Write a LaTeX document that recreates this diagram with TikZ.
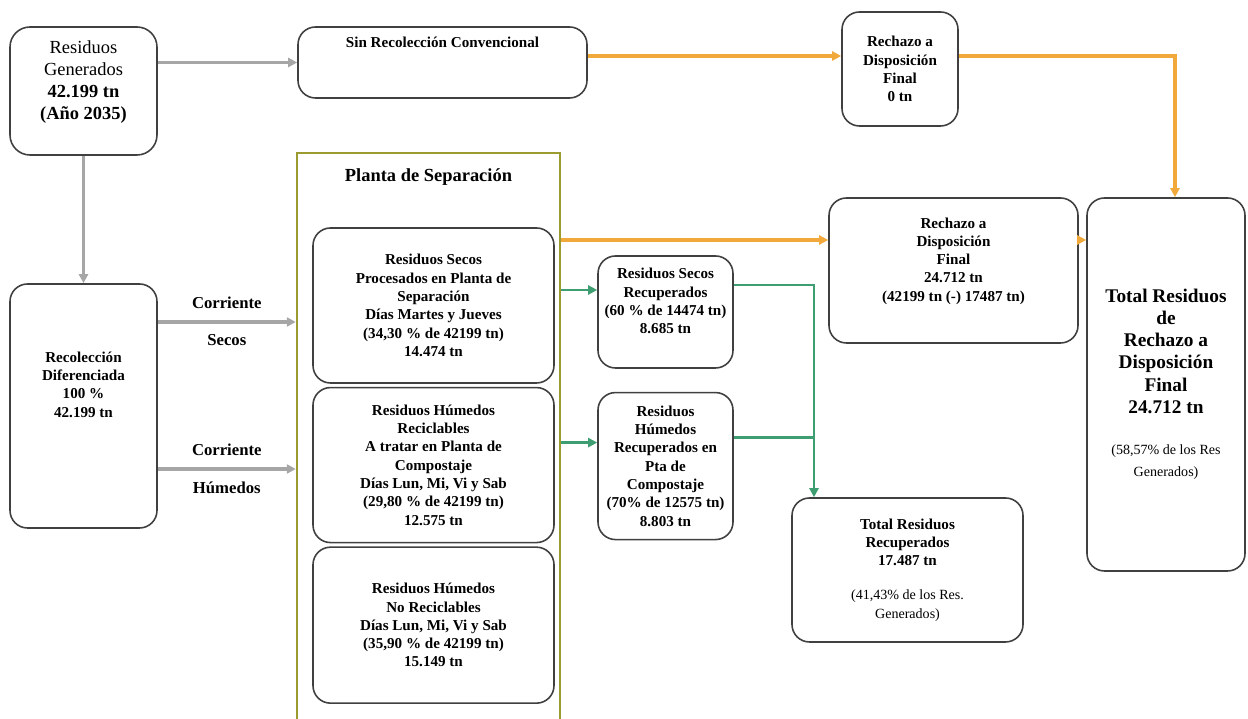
\documentclass[tikz,border=0pt]{standalone}
\usepackage{fontspec}
\setmainfont{Liberation Serif}
\usetikzlibrary{arrows.meta,positioning,calc}
\definecolor{boxline}{gray}{0.25}
\definecolor{flowgray}{HTML}{A6A6A6}
\definecolor{flowgold}{HTML}{F2A93B}
\definecolor{flowgreen}{HTML}{3E9E72}
\definecolor{plantaolive}{HTML}{9C9B30}

\begin{document}
\begin{tikzpicture}[
  box/.style={draw=boxline, line width=0.9pt, rounded corners=3.5mm, align=center, inner sep=2pt, font=\fontsize{8.6}{10.4}\selectfont\bfseries},
  bigbox/.style={box, font=\fontsize{11}{12.6}\selectfont\bfseries},
  lbl/.style={text=black, font=\fontsize{9.5}{11}\selectfont\bfseries},
  arr/.style={-{Triangle[length=1.8mm,width=1.8mm]}, line width=2pt, draw=#1},
  line/.style={line width=2pt, draw=#1},
]
  \useasboundingbox (0,0) rectangle (24.96,14.38);

  % columna izquierda
  \node[box, rounded corners=4mm, minimum width=2.94cm, minimum height=2.56cm, font=\fontsize{10.5}{12.4}\selectfont] (gen) at (1.67,12.56)
    {Residuos\\Generados\\\textbf{42.199 tn}\\\textbf{(Año 2035)}\\[0pt]\mbox{}};
  \node[box, minimum width=2.94cm, minimum height=4.88cm] (rd) at (1.67,6.26)
    {Recolección\\Diferenciada\\100 \%\\42.199 tn\\[14pt]\mbox{}};

  % fila superior
  \node[box, minimum width=5.78cm, minimum height=1.42cm] (sin) at (8.85,13.13)
    {Sin Recolección Convencional\\[12.5pt]\mbox{}};
  \node[box, minimum width=2.32cm, minimum height=2.28cm] (rech0) at (18.0,13.0)
    {Rechazo a\\Disposición\\Final\\0 tn};

  % planta de separacion
  \node[draw=plantaolive, line width=1.4pt, minimum width=5.26cm, minimum height=11.44cm] (planta) at (8.57,5.6) {};
  \node[lbl, font=\fontsize{10.5}{12}\selectfont\bfseries, below=0.22cm of planta.north] (titulo) {Planta de Separación};
  \node[box, minimum width=4.82cm, minimum height=3.1cm] (secos) at (8.67,8.27)
    {Residuos Secos\\Procesados en Planta de\\Separación\\Días Martes y Jueves\\(34,30 \% de 42199 tn)\\14.474 tn};
  \node[box, minimum width=4.82cm, minimum height=3.1cm, below=0.06cm of secos] (hum)
    {Residuos Húmedos\\Reciclables\\A tratar en Planta de\\Compostaje\\Días Lun, Mi, Vi y Sab\\(29,80 \% de 42199 tn)\\12.575 tn};
  \node[box, minimum width=4.82cm, minimum height=3.12cm, below=0.06cm of hum] (nohum)
    {Residuos Húmedos\\No Reciclables\\Días Lun, Mi, Vi y Sab\\(35,90 \% de 42199 tn)\\15.149 tn};

  % recuperados
  \node[box, minimum width=2.7cm, minimum height=2.24cm] (rsr) at (13.31,8.14)
    {Residuos Secos\\Recuperados\\(60 \% de 14474 tn)\\8.685 tn\\[2pt]\mbox{}};
  \node[box, minimum width=2.7cm, minimum height=2.94cm, below=0.46cm of rsr] (rhr)
    {Residuos\\Húmedos\\Recuperados en\\Pta de\\Compostaje\\(70\% de 12575 tn)\\8.803 tn};
  \node[box, minimum width=4.62cm, minimum height=2.88cm] (totrec) at (18.15,2.98)
    {Total Residuos\\Recuperados\\17.487 tn\\[9pt]{\normalfont\fontsize{8}{10}\selectfont (41,43\% de los Res.}\\{\normalfont\fontsize{8}{10}\selectfont Generados)}};

  % rechazo
  \node[box, minimum width=4.98cm, minimum height=2.9cm] (rech) at (19.07,8.97)
    {Rechazo a\\Disposición\\Final\\24.712 tn\\(42199 tn (-) 17487 tn)\\[2.3pt]\mbox{}};
  \node[bigbox, minimum width=3.16cm, minimum height=7.46cm] (totrech) at (23.32,6.69)
    {Total Residuos\\de\\Rechazo a\\Disposición\\Final\\24.712 tn\\[11pt]{\normalfont\fontsize{8}{10}\selectfont (58,57\% de los Res}\\{\normalfont\fontsize{8}{10}\selectfont Generados)}};

  % flechas grises
  \draw[arr=flowgray] (gen.east |- sin.west) -- (sin.west);
  \draw[arr=flowgray] (gen) -- (rd);
  \draw[arr=flowgray] ([yshift=1.68cm]rd.east) -- ([yshift=1.68cm]rd.east -| planta.west)
    node[lbl, midway, above=3pt] {Corriente} node[lbl, midway, below=3pt] {Secos};
  \draw[arr=flowgray] ([yshift=-1.26cm]rd.east) -- ([yshift=-1.26cm]rd.east -| planta.west)
    node[lbl, midway, above=3pt] {Corriente} node[lbl, midway, below=3pt] {Húmedos};

  % flechas naranjas
  \draw[arr=flowgold] ([yshift=2.6mm]rech0.west -| sin.east) -- ([yshift=2.6mm]rech0.west);
  \draw[arr=flowgold] ([yshift=2.6mm]rech0.east) -| ([xshift=1.8mm]totrech.north);
  \draw[arr=flowgold] ([yshift=6.1mm]rech.west -| planta.east) -- ([yshift=6.1mm]rech.west);
  \draw[arr=flowgold] ([yshift=6.1mm]rech.east) -- ([yshift=6.1mm]rech.east -| totrech.west);

  % flechas verdes
  \coordinate (union) at ([xshift=-18.7mm]totrec.north);
  \draw[arr=flowgreen, line width=1.6pt] ([yshift=4.4mm]rsr.west -| planta.east) -- ([yshift=4.4mm]rsr.west);
  \draw[arr=flowgreen, line width=1.6pt] ([yshift=4.7mm]rhr.west -| planta.east) -- ([yshift=4.7mm]rhr.west);
  \draw[arr=flowgreen, line width=1.6pt] ([yshift=5.4mm]rsr.east) -| (union);
  \draw[line=flowgreen, line width=1.6pt] ([yshift=5.7mm]rhr.east) -- ([yshift=5.7mm]rhr.east -| union);
\end{tikzpicture}
\end{document}
